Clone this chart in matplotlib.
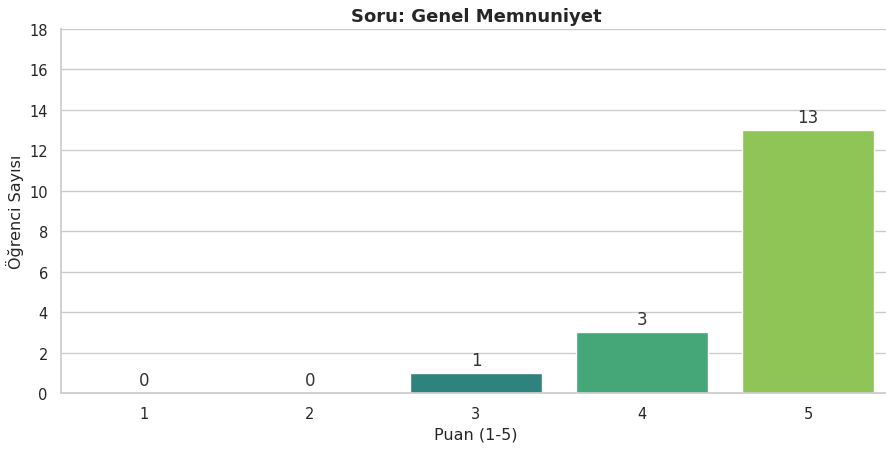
import matplotlib
matplotlib.use("Agg")
import matplotlib.pyplot as plt
import seaborn as sns

# Data
puanlar = ["1", "2", "3", "4", "5"]
ogrenci_sayisi = [0, 0, 1, 3, 13]

sns.set_theme(style="whitegrid")

fig = plt.figure(figsize=(8.86, 4.56), dpi=100)
ax = fig.add_axes([61 / 886, 1 - 394 / 456, 830 / 886, 364 / 456])

sns.barplot(x=puanlar, y=ogrenci_sayisi, hue=puanlar, palette="viridis",
            legend=False, ax=ax)

# value labels above each bar
for i, v in enumerate(ogrenci_sayisi):
    ax.annotate(str(v), (i, v), xytext=(0, 3), textcoords="offset points",
                ha="center", va="bottom", fontsize=12, color="#333333")

ax.set_ylim(0, 18)
ax.set_yticks(range(0, 19, 2))
ax.set_xlim(-0.5, 4.5)
ax.set_title("Soru: Genel Memnuniyet", fontsize=13, fontweight="bold", pad=6)
ax.set_xlabel("Puan (1-5)", fontsize=11.5)
ax.set_ylabel("Öğrenci Sayısı", fontsize=11.5)
ax.tick_params(labelsize=10.5)
sns.despine(ax=ax)

fig.savefig("out.png", dpi=100)
